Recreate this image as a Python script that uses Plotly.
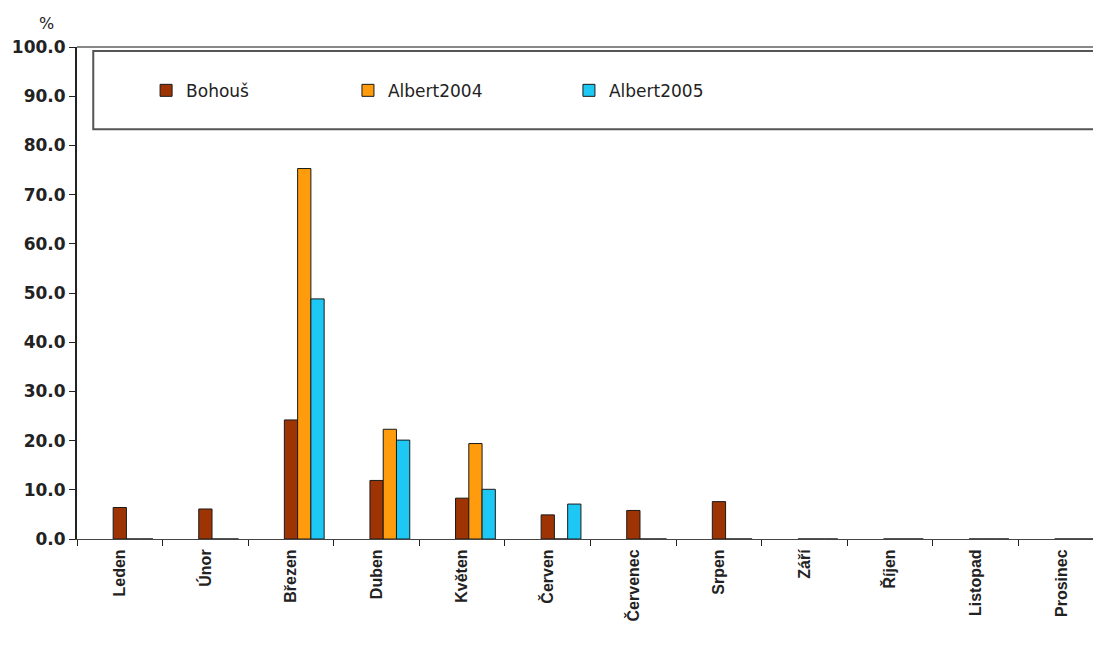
import plotly.graph_objects as go

months = ["Leden", "Únor", "Březen", "Duben", "Květen", "Červen",
          "Červenec", "Srpen", "Září", "Říjen", "Listopad", "Prosinec"]
bohous = [6.4, 6.1, 24.2, 11.9, 8.3, 4.9, 5.8, 7.6, 0, 0, 0, 0]
albert2004 = [0, 0, 75.3, 22.3, 19.4, 0, 0, 0, 0, 0, 0, 0]
albert2005 = [0, 0, 48.8, 20.1, 10.1, 7.1, 0, 0, 0, 0, 0, 0]
y_ticks = [0, 10, 20, 30, 40, 50, 60, 70, 80, 90, 100]

series = [
    ("Bohouš", bohous, "#9E3404"),
    ("Albert2004", albert2004, "#FF9C0E"),
    ("Albert2005", albert2005, "#1DC8F4"),
]

BAR_W = 0.155
legend_x = [0.068, 0.2667, 0.4842]

fig = go.Figure()
for i, (name, vals, col) in enumerate(series):
    fig.add_trace(go.Bar(
        x=months, y=vals, name=name,
        marker=dict(color=col, line=dict(color="#1a1a1a", width=1)),
        width=BAR_W, offset=-BAR_W / 2 + i * BAR_W,
        legend="legend" if i == 0 else f"legend{i+1}",
    ))

legend_common = dict(
    orientation="h", yanchor="middle", y=0.911, xanchor="left",
    bgcolor="rgba(0,0,0,0)",
    font=dict(family="DejaVu Sans", size=17, color="#222"),
    itemwidth=30, tracegroupgap=0,
)

fig.update_layout(
    width=1093, height=652,
    margin=dict(l=77, r=0, t=47, b=113),
    paper_bgcolor="white", plot_bgcolor="white",
    showlegend=True,
    legend=dict(x=legend_x[0], **legend_common),
    legend2=dict(x=legend_x[1], **legend_common),
    legend3=dict(x=legend_x[2], **legend_common),
    barmode="overlay",
    font=dict(family="Liberation Sans", color="#222"),
    xaxis=dict(
        type="category", range=[-0.5, 11.37],
        tickangle=-90,
        tickfont=dict(size=16, family="Liberation Sans", weight="bold", color="#222"),
        ticks="outside", tickson="boundaries", ticklen=6, tickcolor="#222",
        ticklabelstandoff=3,
        showline=True, linecolor="#444", linewidth=1, showgrid=False,
    ),
    yaxis=dict(
        range=[0, 100], tickvals=y_ticks, tickformat=".1f",
        tickfont=dict(size=17, family="DejaVu Sans", weight="bold", color="#222"),
        ticks="outside", ticklen=6, tickcolor="#222",
        showline=True, linecolor="#222", linewidth=2, showgrid=False,
        zeroline=False,
    ),
    shapes=[
        dict(type="line", xref="paper", yref="paper", x0=0, x1=1, y0=1, y1=1,
             line=dict(color="#888", width=2)),
        dict(type="rect", xref="paper", yref="paper", x0=0.016, x1=1.01,
             y0=0.833, y1=0.992, line=dict(color="#555", width=2)),
    ],
    annotations=[
        dict(text="%", xref="paper", yref="paper", x=-0.03, y=1.025,
             xanchor="center", yanchor="bottom", showarrow=False,
             font=dict(size=16, family="DejaVu Sans", color="#222")),
    ],
)

fig.write_html("out.html")
